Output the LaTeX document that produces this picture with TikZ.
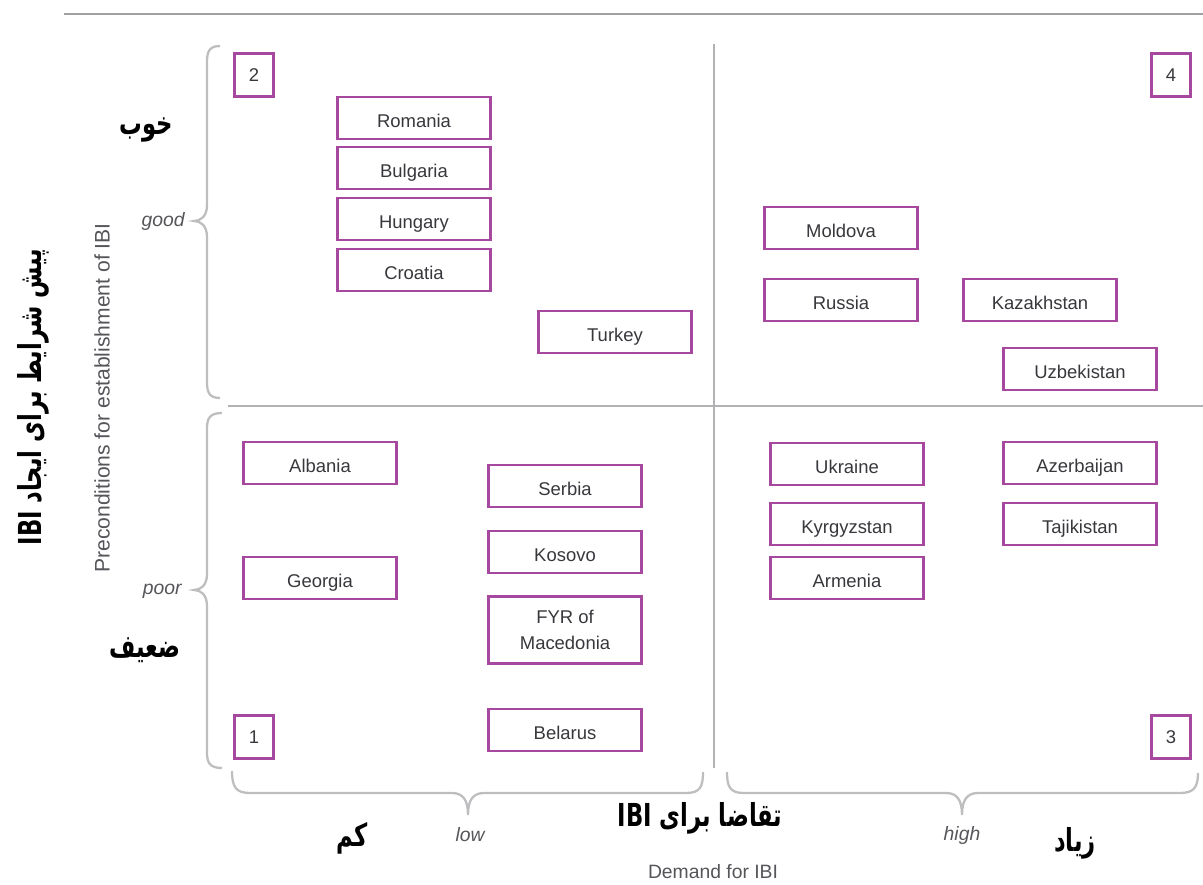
\documentclass[tikz,border=0pt]{standalone}
\usepackage{fontspec}
\setmainfont{Liberation Sans}
\newfontfamily\fa[Script=Arabic]{DejaVu Sans}
\TeXXeTstate=1
\definecolor{boxpurple}{RGB}{165,72,158}
\definecolor{linegray}{RGB}{178,178,180}
\definecolor{bracegray}{RGB}{190,190,192}
\definecolor{txtgray}{RGB}{55,55,60}
\definecolor{labgray}{RGB}{85,85,90}
\newcommand{\fatext}[1]{\scalebox{0.86}[1.2]{#1}}
\tikzset{
  cbox/.style={draw=boxpurple, line width=1.3pt, minimum width=3.06cm, minimum height=0.84cm, inner sep=0pt, font=\fontsize{10.5}{15}\selectfont, text=txtgray, align=center},
  cboxs/.style={cbox, text height=10.9pt, text depth=0pt},
  nbox/.style={draw=boxpurple, line width=1.3pt, minimum width=0.78cm, minimum height=0.86cm, inner sep=0pt, font=\fontsize{10.5}{12}\selectfont, text=txtgray},
  divider/.style={draw=linegray, line width=1.3pt},
  bracepath/.style={draw=bracegray, line width=1.3pt},
  lvl/.style={font=\fontsize{11}{13}\selectfont\itshape, text=labgray, inner sep=0pt},
  axlab/.style={font=\fontsize{11}{13}\selectfont, text=labgray, inner sep=0pt},
  falab/.style={font=\fontsize{15}{18}\selectfont\fa\bfseries, text=black, inner sep=0pt}
}
\begin{document}
\begin{tikzpicture}[x=0.02cm, y=-0.02cm]
\useasboundingbox (0,0) rectangle (1203,885);
% lines
\draw[divider, line width=1.6pt, draw=linegray!90!black] (64,14) -- (1203,14);
\draw[divider] (714,44) -- (714,768);
\draw[divider] (228,406) -- (1203,406);
% left braces
\draw[bracepath] (220,46) .. controls (209,46) and (207,52) .. (207,62) -- (207,205)
  .. controls (207,216) and (201,221) .. (194,221)
  .. controls (201,221) and (207,226) .. (207,237) -- (207,382)
  .. controls (207,392) and (209,398) .. (220,398);
\draw[bracepath] (222,413) .. controls (209,413) and (207,419) .. (207,429) -- (207,574)
  .. controls (207,585) and (201,590) .. (194,590)
  .. controls (201,590) and (207,595) .. (207,606) -- (207,752)
  .. controls (207,762) and (209,768) .. (222,768);
% bottom braces
\draw[bracepath] (232,771) .. controls (232,787) and (236,793) .. (250,793) -- (452,793)
  .. controls (463,793) and (468,800) .. (468,815)
  .. controls (468,800) and (473,793) .. (484,793) -- (686,793)
  .. controls (700,793) and (703,787) .. (703,772);
\draw[bracepath] (727,772) .. controls (727,787) and (730,793) .. (744,793) -- (946,793)
  .. controls (957,793) and (962,800) .. (962,815)
  .. controls (962,800) and (967,793) .. (978,793) -- (1180,793)
  .. controls (1194,793) and (1198,787) .. (1198,773);
% quadrant numbers
\node[nbox] (q2) at (254,75) {2};
\node[nbox] (q4) at (1171,75) {4};
\node[nbox] (q1) at (254,737) {1};
\node[nbox] (q3) at (1171,737) {3};
% countries
\node[cboxs] (romania) at (414,118) {Romania};
\node[cboxs] (bulgaria) at (414,168) {Bulgaria};
\node[cboxs] (hungary) at (414,219) {Hungary};
\node[cboxs] (croatia) at (414,270) {Croatia};
\node[cboxs] (turkey) at (615,332) {Turkey};
\node[cboxs] (moldova) at (841,228) {Moldova};
\node[cboxs] (russia) at (841,300) {Russia};
\node[cboxs] (kazakhstan) at (1040,300) {Kazakhstan};
\node[cboxs] (uzbekistan) at (1080,369) {Uzbekistan};
\node[cboxs] (albania) at (320,463) {Albania};
\node[cboxs] (georgia) at (320,578) {Georgia};
\node[cboxs] (serbia) at (565,486) {Serbia};
\node[cboxs] (kosovo) at (565,552) {Kosovo};
\node[cbox, minimum height=1.34cm] (fyr) at (565,630) {FYR of\\Macedonia};
\node[cboxs] (belarus) at (565,730) {Belarus};
\node[cboxs] (ukraine) at (847,464) {Ukraine};
\node[cboxs] (kyrgyzstan) at (847,524) {Kyrgyzstan};
\node[cboxs] (armenia) at (847,578) {Armenia};
\node[cboxs] (azerbaijan) at (1080,463) {Azerbaijan};
\node[cboxs] (tajikistan) at (1080,524) {Tajikistan};
% level labels
\node[lvl, anchor=east] (good) at (185,222) {good};
\node[lvl, anchor=east] (poor) at (182,591) {poor};
\node[lvl] (low) at (470,835) {low};
\node[lvl] (high) at (962,835) {high};
% axis labels
\node[axlab, rotate=90, font=\fontsize{12}{14}\selectfont] (prec) at (102,398) {Preconditions for establishment of IBI};
\node[axlab] (demand) at (713,872) {Demand for IBI};
% Persian labels
\node[falab] (khub) at (146,130) {\fatext{\beginR خوب\endR}};
\node[falab] (zaif) at (145,650) {\fatext{\beginR ضعیف\endR}};
\node[falab] (kam) at (352,838) {\fatext{\beginR کم\endR}};
\node[falab] (ziad) at (1075,843) {\fatext{\beginR زیاد\endR}};
\node[falab] (taghaza) at (700,818) {\fatext{\beginR تقاضا برای \beginL IBI\endL\endR}};
\node[falab, rotate=90] (pish) at (33,397) {\fatext{\beginR پیش شرایط برای ایجاد \beginL IBI\endL\endR}};
\end{tikzpicture}
\end{document}
